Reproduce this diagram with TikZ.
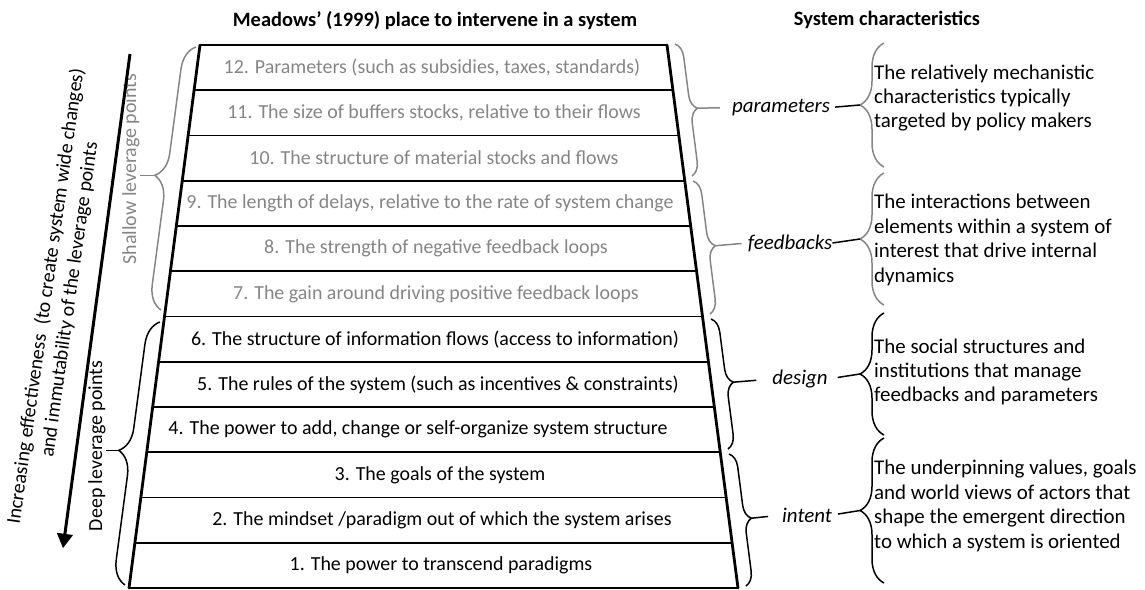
\documentclass[tikz,border=0pt]{standalone}
\usepackage{fontspec}
\setmainfont{Carlito}
\usetikzlibrary{arrows, calc, decorations.pathreplacing}

\definecolor{shallowgray}{gray}{0.52}

\tikzset{
	rung/.style={line width=1.8bp},
	side/.style={line width=2.8bp, line cap=round},
	point/.style={font=\fontsize{20}{24}\selectfont, inner sep=0pt},
	shallowpoint/.style={point, text=shallowgray},
	curly/.style={decorate, decoration={brace, amplitude=#1}, line width=1.5bp},
	tick/.style={line width=1.5bp},
	tag/.style={font=\fontsize{21}{24}\selectfont\itshape, inner sep=0pt},
	charbox/.style={font=\fontsize{21}{24.5}\selectfont, align=left, anchor=west, inner sep=0pt},
	heading/.style={font=\fontsize{20.5}{24}\selectfont\bfseries, inner sep=0pt},
}

\begin{document}
\begin{tikzpicture}[x=1bp, y=-1bp]
	\useasboundingbox (0,0) rectangle (1145,590);
	\node [heading] (title) at (435,21) {Meadows’ (1999) place to intervene in a system};
	\node [heading] (chartitle) at (887,20) {System characteristics};

	% the ladder
	\coordinate (TL) at (200,45);
	\coordinate (TR) at (667,45);
	\coordinate (BL) at (129,588);
	\coordinate (BR) at (738,588);
	\foreach \i in {0,...,12}
		\draw [rung] ($(TL)!\i/12!(BL)$) -- ($(TR)!\i/12!(BR)$);
	\draw [side] (TL) -- (BL);
	\draw [side] (TR) -- (BR);

	\node [shallowpoint] (p12) at (432,67.6) {12. Parameters (such as subsidies, taxes, standards)};
	\node [shallowpoint] (p11) at (434,112.9) {11. The size of buffers stocks, relative to their flows};
	\node [shallowpoint] (p10) at (434,158.1) {10. The structure of material stocks and flows};
	\node [shallowpoint] (p9) at (430,203.4) {9. The length of delays, relative to the rate of system change};
	\node [shallowpoint] (p8) at (436,248.6) {8. The strength of negative feedback loops};
	\node [shallowpoint] (p7) at (436,293.9) {7. The gain around driving positive feedback loops};
	\node [point] (p6) at (435,339.1) {6. The structure of information flows (access to information)};
	\node [point] (p5) at (438,384.4) {5. The rules of the system (such as incentives \& constraints)};
	\node [point] (p4) at (418,429.6) {4. The power to add, change or self-organize system structure};
	\node [point] (p3) at (440,474.9) {3. The goals of the system};
	\node [point] (p2) at (442,520.1) {2. The mindset /paradigm out of which the system arises};
	\node [point] (p1) at (441,565.4) {1. The power to transcend paradigms};

	% leverage brackets on the left
	\coordinate (sB) at (161,310);
	\coordinate (sT) at (196,47);
	\draw [curly=24bp, shallowgray] (sB) -- (sT);
	\coordinate (sTip) at ($(sB)!0.5!(sT)!24bp!90:(sT)$);
	\node [shallowpoint, rotate=90] (shallow) at (131,169) {Shallow leverage points};
	\draw [tick, shallowgray] (sTip) -- (sTip -| shallow.south);

	\coordinate (dB) at (125,585);
	\coordinate (dT) at (160,322);
	\draw [curly=24bp] (dB) -- (dT);
	\coordinate (dTip) at ($(dB)!0.5!(dT)!24bp!90:(dT)$);
	\node [point, rotate=90] (deep) at (97,446) {Deep leverage points};
	\draw [tick] (dTip) -- (dTip -| deep.south);

	\coordinate (arrowtop) at (130,54);
	\coordinate (arrowbot) at (63,548);
	\draw [-triangle 60, line width=3bp] (arrowtop) -- (arrowbot);
	\node [point, font=\fontsize{20}{24}\selectfont, rotate=82, align=center] (effect) at (58,298)
		{Increasing effectiveness\ \ (to create system wide changes)\\and immutability of the leverage points};

	% near braces on the right
	\coordinate (npT) at (675,44);
	\coordinate (npB) at (692,176);
	\draw [curly=14bp, shallowgray] (npT) -- (npB);
	\coordinate (npTip) at ($(npT)!0.5!(npB)!14bp!90:(npB)$);
	\coordinate (nfT) at (693,181);
	\coordinate (nfB) at (710,314);
	\draw [curly=14bp, shallowgray] (nfT) -- (nfB);
	\coordinate (nfTip) at ($(nfT)!0.5!(nfB)!14bp!90:(nfB)$);
	\coordinate (ndT) at (711,319);
	\coordinate (ndB) at (728,449);
	\draw [curly=14bp] (ndT) -- (ndB);
	\coordinate (ndTip) at ($(ndT)!0.5!(ndB)!14bp!90:(ndB)$);
	\coordinate (niT) at (729,454);
	\coordinate (niB) at (746,586);
	\draw [curly=14bp] (niT) -- (niB);
	\coordinate (niTip) at ($(niT)!0.5!(niB)!14bp!90:(niB)$);

	\node [tag] (parameters) at (781,107.5) {parameters};
	\node [tag] (feedbacks) at (790,243) {feedbacks};
	\node [tag] (design) at (800,379) {design};
	\node [tag] (intent) at (807,515) {intent};

	% far braces
	\coordinate (fpT) at (884,43);
	\coordinate (fpB) at (884,167);
	\draw [curly=24bp, shallowgray] (fpB) -- (fpT);
	\coordinate (fpTip) at ($(fpB)!0.5!(fpT)!24bp!90:(fpT)$);
	\coordinate (ffT) at (884,173);
	\coordinate (ffB) at (884,305);
	\draw [curly=24bp, shallowgray] (ffB) -- (ffT);
	\coordinate (ffTip) at ($(ffB)!0.5!(ffT)!24bp!90:(ffT)$);
	\coordinate (fdT) at (884,313);
	\coordinate (fdB) at (884,435);
	\draw [curly=24bp] (fdB) -- (fdT);
	\coordinate (fdTip) at ($(fdB)!0.5!(fdT)!24bp!90:(fdT)$);
	\coordinate (fiT) at (884,438);
	\coordinate (fiB) at (884,583);
	\draw [curly=24bp] (fiB) -- (fiT);
	\coordinate (fiTip) at ($(fiB)!0.5!(fiT)!24bp!90:(fiT)$);

	\draw [tick, shallowgray, shorten >=12bp] (npTip) -- (parameters.west);
	\draw [tick, shorten <=5bp] (parameters.east) -- (fpTip);
	\draw [tick, shallowgray, shorten >=6bp] (nfTip) -- (feedbacks.west);
	\draw [tick] (feedbacks.east) -- (ffTip);
	\draw [tick, shorten >=16bp] (ndTip) -- (design.west);
	\draw [tick, shorten <=10bp] (design.east) -- (fdTip);
	\draw [tick, shorten >=14bp] (niTip) -- (intent.west);
	\draw [tick, shorten <=6bp] (intent.east) -- (fiTip);

	\node [charbox] (paramtext) at (874,98) {The relatively mechanistic\\characteristics typically\\targeted by policy makers};
	\node [charbox] (feedtext) at (874,240) {The interactions between\\elements within a system of\\interest that drive internal\\dynamics};
	\node [charbox] (designtext) at (874,372) {The social structures and\\institutions that manage\\feedbacks and parameters};
	\node [charbox] (intenttext) at (874,506) {The underpinning values, goals\\and world views of actors that\\shape the emergent direction\\to which a system is oriented};
\end{tikzpicture}
\end{document}
